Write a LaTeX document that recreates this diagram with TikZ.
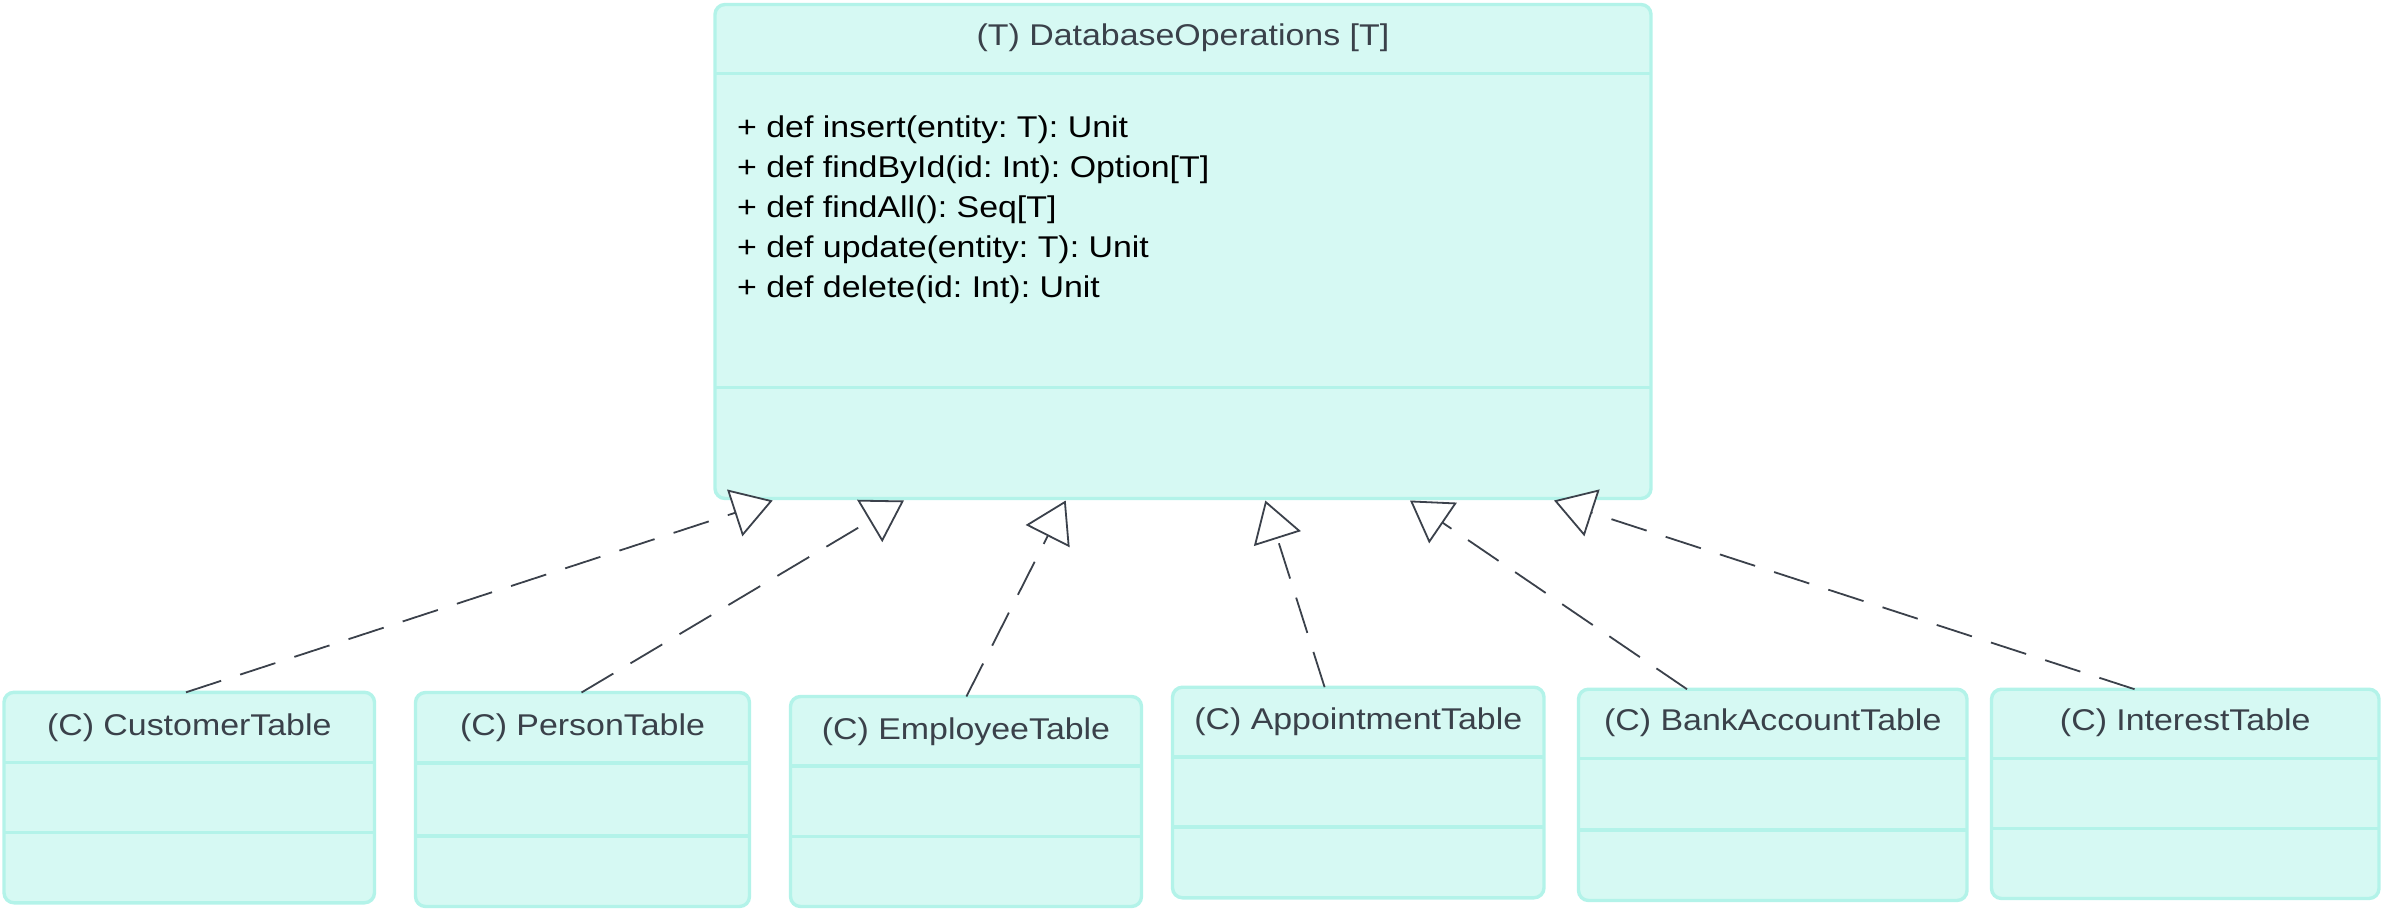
\documentclass[tikz,border=0pt]{standalone}
\usepackage{fontspec}
\setmainfont{Liberation Sans}[FakeStretch=1.13]
\usetikzlibrary{arrows.meta}
\frenchspacing
\definecolor{boxfill}{HTML}{D6F9F3}
\definecolor{boxline}{HTML}{B3F3E9}
\definecolor{titlecol}{HTML}{3A414A}
\definecolor{linecol}{HTML}{3B414B}
\tikzset{
  clsbox/.style={draw=boxline, fill=boxfill, line width=3.4pt, rounded corners=10pt, inner sep=0pt, outer sep=0pt},
  clssep/.style={draw=boxline, line width=3.4pt},
  clstitle/.style={text=titlecol, font=\fontsize{30}{36}\selectfont, inner sep=0pt},
  methodtxt/.style={text=black, font=\fontsize{30}{40}\selectfont, inner sep=0pt},
  realize/.style={draw=linecol, line width=1.8pt, dash pattern=on 37pt off 20pt,
    -{Triangle[length=40pt, width=49pt, fill=white]}},
}
\newcommand\umlclass[9]{%
  \node[clsbox, anchor=north west, minimum width={(#4-#2)*1pt}, minimum height={(#5-#3)*1pt}] (#1) at (#2,#3) {};
  \draw[clssep] (#2,#6) -- (#4,#6);
  \draw[clssep] (#2,#7) -- (#4,#7);
  \node[clstitle, anchor=base] (#1-title) at ({(#2+#4)/2},#9) {#8};
}
\begin{document}
\begin{tikzpicture}[x=1pt, y=-1pt]
\useasboundingbox (0,0) rectangle (2383,909);
% main trait
\umlclass{dbops}{715}{4.5}{1651}{498.5}{73.7}{387.5}{(T) DatabaseOperations [T]}{45.7}
\foreach \txt [count=\i] in {%
  {+ def insert(entity: T): Unit},
  {+ def findById(id: Int): Option[T]},
  {+ def findAll(): Seq[T]},
  {+ def update(entity: T): Unit},
  {+ def delete(id: Int): Unit}}
  \node[methodtxt, anchor=base west] (m\i) at (737,{137.3+40*(\i-1)}) {\txt};
% classes
\umlclass{cust}{4}{692.3}{374.5}{902.8}{762.7}{832.7}{(C) CustomerTable}{735}
\umlclass{pers}{415.5}{692.5}{749.5}{906.5}{763}{836}{(C) PersonTable}{735.5}
\umlclass{empl}{790.5}{696.5}{1141.5}{906.5}{766}{836.7}{(C) EmployeeTable}{739}
\umlclass{appt}{1172.5}{687.2}{1544}{897.8}{757}{827}{(C) AppointmentTable}{729}
\umlclass{bank}{1578.5}{689.2}{1967}{900.5}{758.7}{830}{(C) BankAccountTable}{730.5}
\umlclass{intr}{1991.5}{689.2}{2379}{898.5}{758.7}{828.7}{(C) InterestTable}{730.5}
% connector ends
\coordinate (s1) at (cust.north -| 186,0);
\coordinate (s2) at (pers.north -| 581.5,0);
\coordinate (s3) at (empl.north -| 966.4,0);
\coordinate (s4) at (appt.north -| 1324.6,0);
\coordinate (s5) at (bank.north -| 1687,0);
\coordinate (s6) at (intr.north -| 2134.5,0);
\coordinate (t1) at (dbops.south -| 772.7,0);
\coordinate (t2) at (dbops.south -| 904,0);
\coordinate (t3) at (dbops.south -| 1065.7,0);
\coordinate (t4) at (dbops.south -| 1265.3,0);
\coordinate (t5) at (dbops.south -| 1410,0);
\coordinate (t6) at (dbops.south -| 1554,0);
\foreach \k in {1,...,6}
  \draw[realize] (s\k) -- ([yshift=-2pt]t\k);
\end{tikzpicture}
\end{document}
